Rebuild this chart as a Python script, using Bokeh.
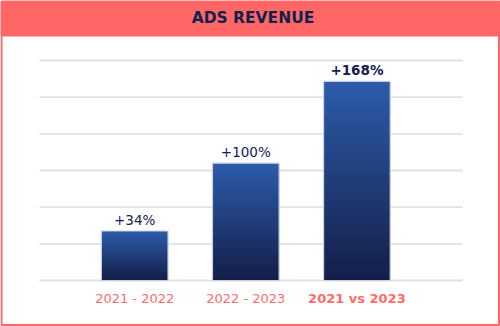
from bokeh.plotting import figure
from bokeh.models import Range1d, ColumnDataSource
from bokeh.embed import file_html
from bokeh.resources import INLINE
from bokeh.core.properties import value

# ---- data ----
categories = ["2021 - 2022", "2022 - 2023", "2021 vs 2023"]
bar_values = [1.35, 3.20, 5.43]
bar_labels = ["+34%", "+100%", "+168%"]
label_bold = [False, False, True]
grid_values = [0, 1, 2, 3, 4, 5, 6]
title_text = "ADS REVENUE"

# ---- layout / style ----
W, H = 500, 326
PX_PER_CAT = 111.1
FIRST_CENTER_PX = 134.2
BASE_PX = 280.0
PX_PER_UNIT = 36.67
BAND_PX = 36.0
GRID_LEFT_PAD = 0.857
GRID_RIGHT_PAD = 0.95
BAR_WIDTH = 0.6
SALMON = "#FF6666"
NAVY = "#13214D"
TOP_C = (0x2D, 0x5C, 0xAA)
BOT_C = (0x14, 0x1E, 0x48)

x0 = -FIRST_CENTER_PX / PX_PER_CAT
x1 = (W - FIRST_CENTER_PX) / PX_PER_CAT
y1 = BASE_PX / PX_PER_UNIT
y0 = (BASE_PX - H) / PX_PER_UNIT
band_y = (BASE_PX - BAND_PX) / PX_PER_UNIT

p = figure(width=W, height=H, output_backend="svg", toolbar_location=None,
           x_range=Range1d(x0, x1), y_range=Range1d(y0, y1),
           x_axis_location=None, y_axis_location=None, min_border=0,
           background_fill_color="white", border_fill_color="white")
p.grid.visible = False
p.outline_line_color = None

xs = list(range(len(categories)))

# gridlines
p.segment(x0=[-GRID_LEFT_PAD] * len(grid_values),
          x1=[len(categories) - 1 + GRID_RIGHT_PAD] * len(grid_values),
          y0=grid_values, y1=grid_values, line_color="#E1E1E1", line_width=1.8)

# gradient bars (top light blue -> bottom dark navy)
N = 40
overlap = 1.2 / PX_PER_UNIT
gl, gr, gb, gt, gc = [], [], [], [], []
for i, v in enumerate(bar_values):
    for k in range(N):
        f0 = k / N
        f1 = (k + 1) / N
        t = (k + 0.5) / N  # 0 bottom -> 1 top
        c = tuple(int(round(BOT_C[j] + (TOP_C[j] - BOT_C[j]) * t)) for j in range(3))
        gl.append(i - BAR_WIDTH / 2)
        gr.append(i + BAR_WIDTH / 2)
        gb.append(v * f0)
        gt.append(min(v, v * f1 + overlap))
        gc.append("#%02x%02x%02x" % c)
p.quad(left=gl, right=gr, bottom=gb, top=gt, fill_color=gc, line_color=None)
p.quad(left=[i - BAR_WIDTH / 2 for i in xs], right=[i + BAR_WIDTH / 2 for i in xs],
       bottom=[0] * len(xs), top=bar_values, fill_color=None,
       line_color="#C8D1E4", line_width=1.2)

# value labels
for bold in (False, True):
    idx = [i for i in xs if label_bold[i] == bold]
    src = ColumnDataSource(dict(x=idx, y=[bar_values[i] for i in idx],
                                t=[bar_labels[i] for i in idx]))
    p.text(x="x", y="y", text="t", source=src, text_align="center",
           text_baseline="alphabetic", y_offset=-11,
           text_font=value("DejaVu Sans"), text_font_size="13.5px",
           text_font_style="bold" if bold else "normal", text_color=NAVY)

# category labels
for bold in (False, True):
    idx = [i for i in xs if label_bold[i] == bold]
    src = ColumnDataSource(dict(x=idx, y=[0] * len(idx),
                                t=[categories[i] for i in idx]))
    p.text(x="x", y="y", text="t", source=src, text_align="center",
           text_baseline="alphabetic", y_offset=18,
           text_font=value("DejaVu Sans"), text_font_size="13px",
           text_font_style="bold" if bold else "normal", text_color="#FF6B6B")

# title band
p.quad(left=[x0], right=[x1], bottom=[band_y], top=[y1], fill_color=SALMON, line_color=None)
p.text(x=[(x0 + x1) / 2 + 2.5 / PX_PER_CAT], y=[(BASE_PX - 17) / PX_PER_UNIT], text=[title_text],
       text_align="center", text_baseline="alphabetic",
       text_font=value("DejaVu Sans"), text_font_size="15.5px",
       text_font_style="bold", text_color="#13214D")

# outer frame border
bx = 1.0 / PX_PER_CAT
by = 1.0 / PX_PER_UNIT
p.quad(left=[x0 + bx], right=[x1 - 1.5 * bx], bottom=[y0 + 1.5 * by], top=[y1 - by],
       fill_color=None, line_color=SALMON, line_width=2)

open("out.html", "w").write(file_html(p, INLINE))
